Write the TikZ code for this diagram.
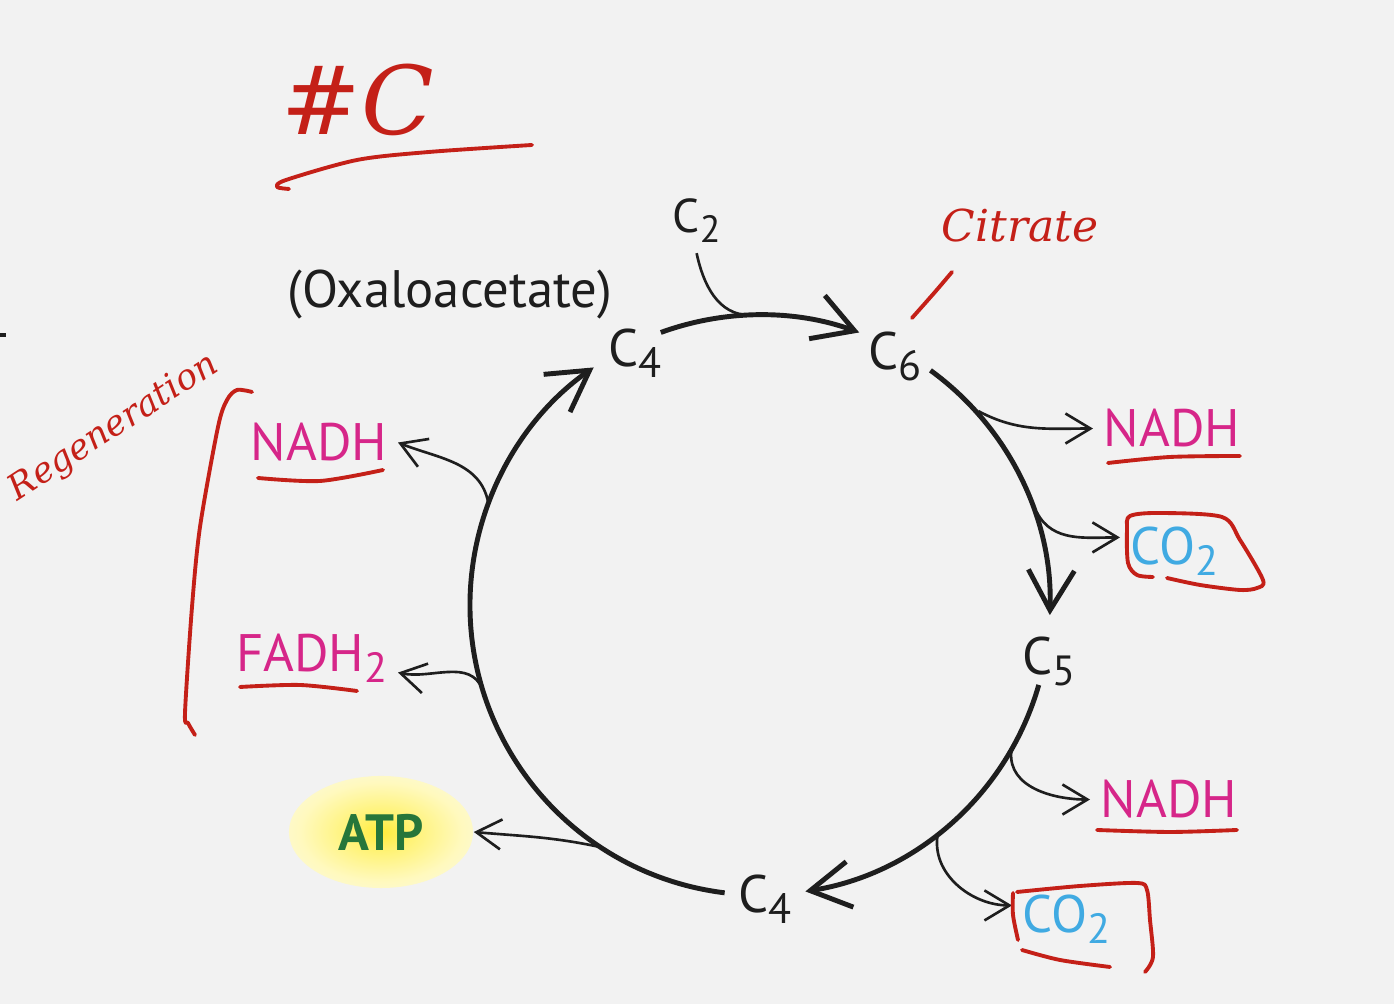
\documentclass[tikz,border=0pt]{standalone}
\usepackage{fontspec}
\setmainfont{PT Sans}
\newfontfamily\hand{DejaVu Serif}
\usetikzlibrary{arrows.meta,shapes.geometric}
\definecolor{bg}{HTML}{F2F2F2}
\definecolor{ink}{HTML}{1E1E1E}
\definecolor{mag}{RGB}{214,38,137}
\definecolor{cob}{RGB}{64,170,226}
\definecolor{atpg}{RGB}{38,118,58}
\definecolor{pen}{RGB}{196,32,24}
\definecolor{glowA}{RGB}{255,236,60}
\definecolor{glowB}{RGB}{255,243,120}
\definecolor{glowC}{RGB}{255,249,190}
\definecolor{glowD}{RGB}{249,248,230}
\pgfdeclareradialshading{atpglow}{\pgfpoint{0bp}{0bp}}{color(0bp)=(glowA); color(9bp)=(glowB); color(22bp)=(glowC); color(35bp)=(glowD); color(50bp)=(glowD)}
\newcommand{\subn}[1]{\raisebox{-0.2em}{\scalebox{0.8}{#1}}}
\begin{document}
\begin{tikzpicture}[x=0.01cm,y=0.01cm,
  lbl/.style={inner sep=1mm, font=\fontsize{15}{17}\selectfont, text=ink},
  mlbl/.style={lbl, text=mag},
  blbl/.style={lbl, text=cob},
  cyc/.style={draw=ink, line width=1.4pt, -{Straight Barb[length=4mm,width=4.6mm]}},
  branch/.style={draw=ink, line width=0.75pt, -{Straight Barb[length=2.5mm,width=3mm]}},
  redpen/.style={draw=pen, line width=1.1pt, line cap=round, line join=round},
  handtxt/.style={text=pen, font=\hand\itshape}]
\fill[bg] (0,0) rectangle (1394,1004);
\useasboundingbox (0,0) rectangle (1394,1004);
\fill[ink] (0,667) rectangle (6,671);

% centre of the cycle
\coordinate (ctr) at (760,399);

% labels on the cycle
\node[lbl, anchor=base west, font=\fontsize{13.5}{16}\selectfont] (c2) at (662,771) {C\subn{2}};
\node[lbl, anchor=base] (oxa) at (450,696) {(Oxaloacetate)};
\node[lbl, anchor=base west] (c4t) at (598,637) {C\subn{4}};
\node[lbl, anchor=base west] (c6) at (858,634) {C\subn{6}};
\node[lbl, anchor=base west] (c5) at (1012,329) {C\subn{5}};
\node[lbl, anchor=base west] (c4b) at (728,91) {C\subn{4}};

% products
\node[mlbl, anchor=base west] (nadh1) at (1093,557) {NADH};
\node[blbl, anchor=base west] (co21) at (1120,439) {CO\subn{2}};
\node[mlbl, anchor=base west] (nadh2) at (1090,186) {NADH};
\node[blbl, anchor=base west] (co22) at (1012,71) {CO\subn{2}};
\node[mlbl, anchor=base east] (nadh3) at (398,543) {NADH};
\node[mlbl, anchor=base east] (fadh) at (398,332) {FADH\subn{2}};
\node[ellipse, shading=atpglow, minimum width=18.4mm, minimum height=11.2mm, inner sep=0pt,
      text=atpg, font=\fontsize{14.5}{16}\selectfont\bfseries] (atp) at (381,172) {ATP};

% cycle arcs
\draw[cyc] ([shift={(110:290)}]ctr) arc[start angle=110, end angle=70, radius=290];
\draw[cyc] ([shift={(54:290)}]ctr) arc[start angle=54, end angle=-2, radius=290];
\draw[cyc] ([shift={(-16:290)}]ctr) arc[start angle=-16, end angle=-81, radius=290];
\draw[cyc] ([shift={(-97:290)}]ctr) arc[start angle=-97, end angle=-235, radius=290];

% branch points
\path (ctr) ++(92:290) coordinate (bc2);
\path (ctr) ++(41.6:292) coordinate (bn1);
\path (ctr) ++(18.4:292) coordinate (bo1);
\path (ctr) ++(-30.3:291) coordinate (bn2);
\path (ctr) ++(-52.2:290) coordinate (bo2);
\path (ctr) ++(236.6:290) coordinate (ba);
\path (ctr) ++(196.9:290) coordinate (bf);
\path (ctr) ++(159.5:290) coordinate (bn3);

% branches
\draw[draw=ink, line width=0.75pt] (c2.south) to[out=-78, in=180] (bc2);
\draw[branch] (bn1) to[out=-28, in=180] (nadh1.west);
\draw[branch] (bo1) to[out=-62, in=180] ([yshift=4]co21.west);
\draw[branch] (bn2) to[out=-95, in=180] (nadh2.west);
\draw[branch] (bo2) to[out=-100, in=180] ([yshift=4]co22.west);
\draw[branch] (ba) to[out=168, in=-5] (atp.east);
\draw[branch] (bf) to[out=112, in=-12] ([yshift=-4]fadh.east);
\draw[branch] (bn3) to[out=100, in=-22] (nadh3.east);

% handwritten annotations
\node[handtxt, font=\hand\itshape\fontsize{27}{30}\selectfont] (hc) at (358,904) {\#C};
\draw[redpen] plot[smooth] coordinates {(289,815) (277,817) (286,824) (357,844) (429,852) (532,859)};
\node[handtxt, font=\hand\itshape\fontsize{12.5}{15}\selectfont] (cit) at (1020,778) {Citrate};
\draw[redpen] plot[smooth] coordinates {(952,732) (935,712) (912,686)};
\node[handtxt, font=\hand\itshape\fontsize{10}{12}\selectfont, rotate=33] (regen) at (114,576) {Regeneration};
\draw[redpen] plot[smooth] coordinates {(252,612) (237,614) (227,604) (218,577) (200,477) (192,397) (185,291) (188,281) (195,269)};
\draw[redpen] plot[smooth] coordinates {(258,526) (320,523) (383,534)};
\draw[redpen] plot[smooth] coordinates {(240,317) (300,319) (357,313)};
\draw[redpen] plot[smooth] coordinates {(1108,541) (1170,547) (1240,548)};
\draw[redpen] plot[smooth] coordinates {(1097,174) (1170,172) (1237,174)};
\draw[redpen] plot[smooth] coordinates {(1153,427) (1137,429) (1128,441) (1127,474) (1130,488) (1160,491) (1222,487) (1240,464) (1263,424) (1257,416) (1240,414) (1200,419) (1167,426)};
\draw[redpen] plot[smooth] coordinates {(1017,112) (1080,118) (1137,121) (1147,114) (1150,84) (1153,47) (1145,32)};
\draw[redpen] plot[smooth] coordinates {(1013,111) (1013,89) (1018,64)};
\draw[redpen] plot[smooth] coordinates {(1022,54) (1060,44) (1110,37)};
\end{tikzpicture}
\end{document}
